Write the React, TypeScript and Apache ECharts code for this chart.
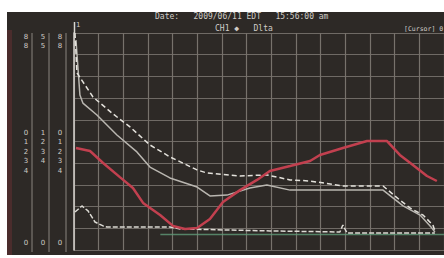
import React, { useEffect, useRef } from "react";
import * as echarts from "echarts";

// Trace values in grid units (x: 0..15 divisions, y: 0..10 divisions)
const traceA: [number, number][] = [
  [0.04, 10.0], [0.12, 8.16], [0.77, 7.05], [1.54, 6.31], [2.27, 5.67], [3.08, 4.84],
  [3.89, 4.29], [4.99, 3.69], [5.39, 3.55], [6.73, 3.41], [7.82, 3.46], [8.76, 3.23],
  [9.57, 3.18], [10.9, 2.95], [12.53, 2.95], [13.21, 2.3], [13.62, 1.94], [14.15, 1.61],
  [14.55, 1.15], [14.63, 0.88],
];
const traceB: [number, number][] = [
  [0.08, 9.68], [0.24, 7.14], [0.36, 6.77], [0.93, 6.22], [1.74, 5.3], [2.55, 4.52],
  [3.08, 3.82], [3.89, 3.32], [4.99, 2.9], [5.51, 2.49], [6.2, 2.53], [7.13, 2.86],
  [7.82, 3.0], [8.76, 2.76], [10.5, 2.76], [12.53, 2.76], [13.34, 2.03], [14.03, 1.61],
  [14.51, 1.01], [14.63, 0.83],
];
const traceC: [number, number][] = [
  [0.04, 1.75], [0.32, 2.03], [0.57, 1.8], [0.85, 1.29], [1.18, 1.11], [1.34, 1.06],
  [3.89, 1.06], [4.3, 0.97], [7.94, 0.88], [10.78, 0.83], [10.9, 1.15], [11.07, 0.78],
  [14.63, 0.78],
];
const traceRed: [number, number][] = [
  [0.08, 4.7], [0.65, 4.56], [1.18, 4.01], [1.86, 3.36], [2.39, 2.86], [2.8, 2.17],
  [3.49, 1.61], [4.01, 1.11], [4.5, 0.97], [4.99, 1.01], [5.51, 1.43], [6.04, 2.21],
  [6.73, 2.76], [7.42, 3.23], [7.94, 3.64], [8.76, 3.87], [9.57, 4.1], [9.97, 4.38],
  [10.9, 4.7], [11.88, 5.02], [12.69, 5.02], [13.21, 4.38], [13.74, 3.92], [14.31, 3.41],
  [14.71, 3.18],
];
const traceGreen: [number, number][] = [
  [3.5, 0.72], [15, 0.72],
];

const headerLine1 = "Date:   2009/06/11 EDT   15:56:00 am";
const headerLine2 = "CH1 \u25C6   Dlta";
const cursorLabel = "[Cursor] 0";

// left scale columns (labels are barely legible in the reference)
const colX = [26, 43, 60];
const topLabels = [["8", "8"], ["5", "5"], ["8", "8"]];
const midLabels = [["0", "1", "2", "3", "4"], ["1", "2", "3", "4"], ["0", "1", "2", "3", "4"]];
const bottomLabels = ["0", "0", "0"];

export default function App() {
  const ref = useRef<HTMLDivElement>(null);
  useEffect(() => {
    document.body.style.margin = "0";
    const chart = echarts.init(ref.current!, undefined, { renderer: "svg" });
    const txt = "#cfccc6";
    const graphics: any[] = [
      { type: "rect", z: 100, shape: { x: 0, y: 0, width: 444, height: 12 }, style: { fill: "#ffffff" } },
      { type: "rect", z: 100, shape: { x: 0, y: 0, width: 7, height: 258 }, style: { fill: "#ffffff" } },
      { type: "rect", z: 100, shape: { x: 0, y: 255, width: 444, height: 3 }, style: { fill: "#ffffff" } },
      { type: "rect", z: 1, shape: { x: 7, y: 30, width: 5, height: 225 }, style: { fill: "#4a2c2c" } },
      { type: "line", z: 1, shape: { x1: 32, y1: 33, x2: 32, y2: 252 }, style: { stroke: "#8a857f", lineWidth: 1 } },
      { type: "line", z: 1, shape: { x1: 49, y1: 33, x2: 49, y2: 252 }, style: { stroke: "#8a857f", lineWidth: 1 } },
      { type: "line", z: 1, shape: { x1: 66, y1: 33, x2: 66, y2: 252 }, style: { stroke: "#8a857f", lineWidth: 1 } },
      { type: "line", z: 5, shape: { x1: 74.5, y1: 22, x2: 74.5, y2: 33 }, style: { stroke: "#d8d6d0", lineWidth: 1.5 } },
      { type: "text", z: 5, x: 155, y: 12, style: { text: headerLine1, fill: txt, font: "8px 'DejaVu Sans Mono'" } },
      { type: "text", z: 5, x: 215, y: 24, style: { text: headerLine2, fill: txt, font: "8px 'DejaVu Sans Mono'" } },
      { type: "text", z: 5, x: 404, y: 25, style: { text: cursorLabel, fill: txt, font: "6.5px 'DejaVu Sans Mono'" } },
      { type: "text", z: 5, x: 76, y: 21, style: { text: "1", fill: txt, font: "7px 'DejaVu Sans'" } },
    ];
    colX.forEach((cx, i) => {
      topLabels[i].forEach((t, j) => {
        graphics.push({ type: "text", z: 5, x: cx, y: 33 + j * 9, style: { text: t, fill: txt, font: "7px 'DejaVu Sans'", align: "center" } });
      });
      midLabels[i].forEach((t, j) => {
        graphics.push({ type: "text", z: 5, x: cx, y: 129 + j * 9.5, style: { text: t, fill: txt, font: "7px 'DejaVu Sans'", align: "center" } });
      });
      graphics.push({ type: "text", z: 5, x: cx, y: 239, style: { text: bottomLabels[i], fill: txt, font: "7px 'DejaVu Sans'", align: "center" } });
    });

    chart.setOption({
      animation: false,
      backgroundColor: "#2d2926",
      grid: { left: 74, top: 33, width: 370, height: 217, show: false },
      xAxis: {
        type: "value", min: 0, max: 15, interval: 1,
        axisLabel: { show: false }, axisTick: { show: false },
        axisLine: { show: false },
        splitLine: { show: true, lineStyle: { color: "#77726c", width: 1.2 } },
      },
      yAxis: {
        type: "value", min: 0, max: 10, interval: 1,
        axisLabel: { show: false }, axisTick: { show: false },
        axisLine: { show: true, lineStyle: { color: "#d8d6d0", width: 1.5 } },
        splitLine: { show: true, lineStyle: { color: "#6f6a65", width: 1.2 } },
      },
      series: [
        { type: "line", data: traceGreen, symbol: "none", lineStyle: { color: "#5f9a78", width: 1.5, opacity: 0.8 } },
        { type: "line", data: traceC, symbol: "none", lineStyle: { color: "#dcdad4", width: 1.5, type: [5, 2] } },
        { type: "line", data: traceB, symbol: "none", lineStyle: { color: "#b9b6b0", width: 1.5 } },
        { type: "line", data: traceA, symbol: "none", lineStyle: { color: "#e4e2dc", width: 1.5, type: [5, 3] } },
        { type: "line", data: traceRed, symbol: "none", lineStyle: { color: "#c2404f", width: 2.5 } },
      ],
      graphic: graphics,
    });
    return () => chart.dispose();
  }, []);
  return <div ref={ref} style={{ position: "fixed", left: 0, top: 0, width: 444, height: 258 }} />;
}
